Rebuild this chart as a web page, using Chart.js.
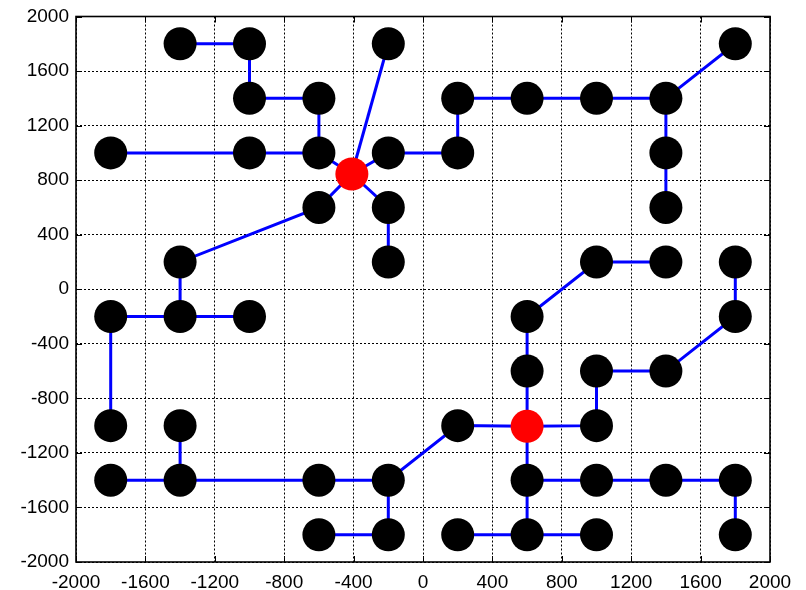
<!DOCTYPE html>
<html>
<head>
<meta charset="utf-8">
<script src="https://cdn.jsdelivr.net/npm/chart.js@4/dist/chart.umd.min.js"></script>
<style>
  html, body { margin: 0; padding: 0; background: #fff; }
  canvas { display: block; }
</style>
</head>
<body>
<canvas id="net" width="806" height="590"></canvas>
<script>
// tick labels (both axes)
const ticksX = [-2000, -1600, -1200, -800, -400, 0, 400, 800, 1200, 1600, 2000];
const ticksY = [-2000, -1600, -1200, -800, -400, 0, 400, 800, 1200, 1600, 2000];

// black nodes
const nodeX = [-1400, -1000, -200, 1800,
    -1000, -600, 200, 600, 1000, 1400,
    -1800, -1000, -600, -200, 200, 1400,
    -600, -200, 1400,
    -1400, -200, 1000, 1400, 1800,
    -1800, -1400, -1000, 600, 1800,
    600, 1000, 1400,
    -1800, -1400, 200, 1000,
    -1800, -1400, -600, -200, 600, 1000, 1400, 1800,
    -600, -200, 200, 600, 1000, 1800];
const nodeY = [1800, 1800, 1800, 1800,
    1400, 1400, 1400, 1400, 1400, 1400,
    1000, 1000, 1000, 1000, 1000, 1000,
    600, 600, 600,
    200, 200, 200, 200, 200,
    -200, -200, -200, -200, -200,
    -600, -600, -600,
    -1000, -1000, -1000, -1000,
    -1400, -1400, -1400, -1400, -1400, -1400, -1400, -1400,
    -1800, -1800, -1800, -1800, -1800, -1800];

// red hub nodes
const hubX = [-410, 600];
const hubY = [845, -1005];

// blue links, each one a polyline of [x, y]
const links = [
    [[-1400, 1800], [-1000, 1800], [-1000, 1400], [-600, 1400], [-600, 1000]],
    [[-1800, 1000], [-600, 1000], [-410, 845]],
    [[-410, 845], [-200, 1800]],
    [[-410, 845], [-200, 1000], [200, 1000], [200, 1400], [1400, 1400], [1800, 1800]],
    [[1400, 1400], [1400, 600]],
    [[-410, 845], [-600, 600], [-1400, 200], [-1400, -200]],
    [[-1800, -1000], [-1800, -200], [-1000, -200]],
    [[-410, 845], [-200, 600], [-200, 200]],
    [[600, -1005], [600, -200], [1000, 200], [1400, 200]],
    [[600, -1005], [1000, -1000], [1000, -600], [1400, -600], [1800, -200], [1800, 200]],
    [[600, -1005], [200, -1000], [-200, -1400], [-1800, -1400]],
    [[-1400, -1400], [-1400, -1000]],
    [[-200, -1400], [-200, -1800], [-600, -1800]],
    [[600, -1005], [600, -1800]],
    [[600, -1400], [1800, -1400], [1800, -1800]],
    [[200, -1800], [1000, -1800]]
];

const FONT = { family: "'Liberation Sans', Arial, sans-serif", size: 19 };

// box round the plot and small ticks pointing inward, matlab style
const boxPlugin = {
    id: 'box',
    afterDatasetsDraw(chart) {
        const ctx = chart.ctx;
        const a = chart.chartArea;
        const sx = chart.scales.x, sy = chart.scales.y;
        const len = 6;
        ctx.save();
        ctx.strokeStyle = '#000';
        ctx.lineWidth = 1;
        ctx.beginPath();
        ticksX.forEach(function(v) {
            const px = Math.round(sx.getPixelForValue(v)) + 0.5;
            ctx.moveTo(px, a.bottom); ctx.lineTo(px, a.bottom - len);
            ctx.moveTo(px, a.top); ctx.lineTo(px, a.top + len);
        });
        ticksY.forEach(function(v) {
            const py = Math.round(sy.getPixelForValue(v)) + 0.5;
            ctx.moveTo(a.left, py); ctx.lineTo(a.left + len, py);
            ctx.moveTo(a.right, py); ctx.lineTo(a.right - len, py);
        });
        ctx.stroke();
        ctx.lineWidth = 1.6;
        ctx.strokeRect(a.left, a.top, a.right - a.left, a.bottom - a.top);
        ctx.restore();
    }
};

const datasets = [];
datasets.push({
    data: hubX.map((x, i) => ({ x: x, y: hubY[i] })),
    backgroundColor: 'rgb(255, 0, 0)',
    borderWidth: 0,
    pointRadius: 16.5,
    order: 0
});
datasets.push({
    data: nodeX.map((x, i) => ({ x: x, y: nodeY[i] })),
    backgroundColor: '#000',
    borderWidth: 0,
    pointRadius: 16.5,
    order: 1
});
links.forEach(function(path) {
    datasets.push({
        data: path.map(p => ({ x: p[0], y: p[1] })),
        showLine: true,
        borderColor: 'rgb(0, 0, 255)',
        borderWidth: 3,
        pointRadius: 0,
        fill: false,
        order: 2
    });
});

function axis(vals, pad, extra) {
    return Object.assign({
        type: 'linear',
        min: -2000,
        max: 2000,
        afterBuildTicks: function(scale) {
            scale.ticks = vals.map(v => ({ value: v }));
        },
        grid: { color: '#000', lineWidth: 1, drawTicks: false },
        border: { display: false, dash: [2, 2] },
        ticks: {
            color: '#000',
            font: FONT,
            padding: pad,
            autoSkip: false,
            maxRotation: 0,
            callback: function(v) { return String(v); }
        }
    }, extra);
}

new Chart(document.getElementById('net'), {
    type: 'scatter',
    data: { datasets: datasets },
    options: {
        responsive: false,
        animation: false,
        layout: { padding: { top: 14, right: 36, left: 0, bottom: 0 } },
        plugins: {
            legend: { display: false },
            tooltip: { enabled: false }
        },
        scales: {
            x: axis(ticksX, 9, {
                afterFit: function(scale) { scale.height = 28; }
            }),
            y: axis(ticksY, 7, {
                afterFit: function(scale) {
                    scale.width = 76;
                    // let the layout padding decide the top edge
                    scale.paddingTop = 0;
                    scale.paddingBottom = 0;
                }
            })
        }
    },
    plugins: [boxPlugin]
});
</script>
</body>
</html>
